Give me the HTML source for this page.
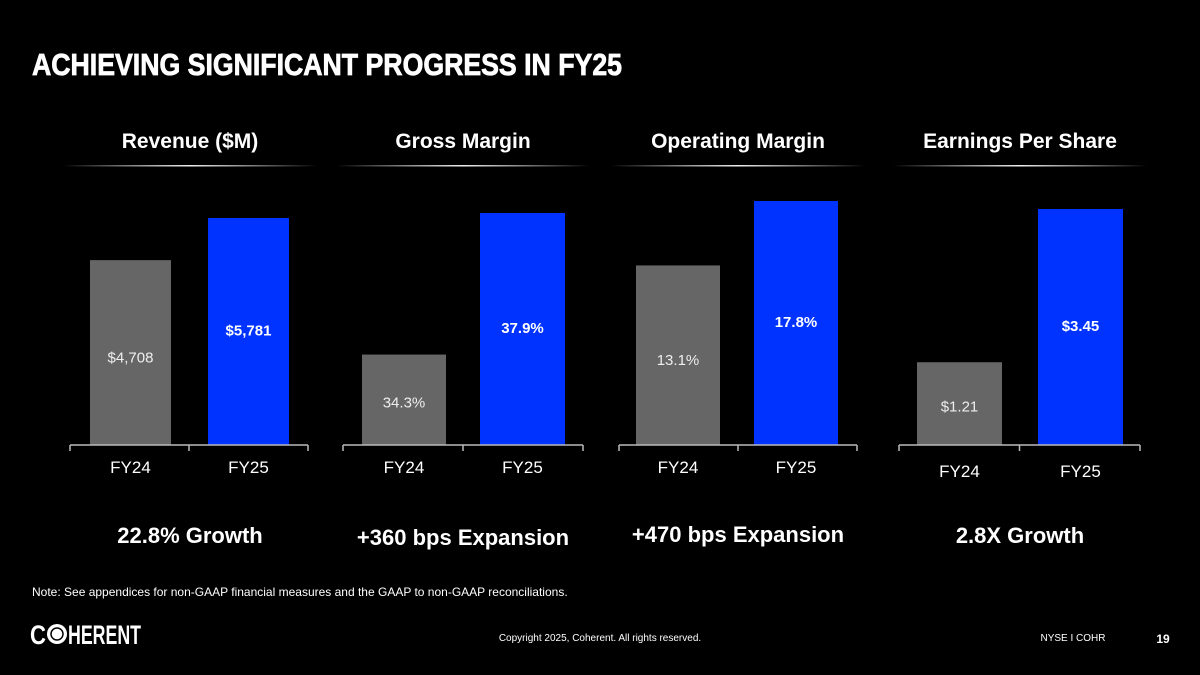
<!DOCTYPE html>
<html><head><meta charset="utf-8"><style>
body{margin:0;background:#000;width:1200px;height:675px;overflow:hidden;font-family:"Liberation Sans",Arial,sans-serif}
svg{display:block}
</style></head><body>
<svg id="s" width="1200" height="675" viewBox="0 0 1200 675">
<defs>
<linearGradient id="g" x1="0" x2="1"><stop offset="0" stop-color="#fff" stop-opacity="0"/><stop offset="0.5" stop-color="#eee"/><stop offset="1" stop-color="#fff" stop-opacity="0"/></linearGradient>
</defs>
<text x="32" y="75" font-size="31" font-weight="bold" fill="#fff" stroke="#fff" stroke-width="0.8" textLength="590" lengthAdjust="spacingAndGlyphs">ACHIEVING SIGNIFICANT PROGRESS IN FY25</text>
<g id="charts"></g>
<text x="32" y="596" font-size="12" fill="#fff">Note: See appendices for non-GAAP financial measures and the GAAP to non-GAAP reconciliations.</text>
<g>
<text x="30" y="644" font-size="27" font-weight="bold" fill="#fff" textLength="16" lengthAdjust="spacingAndGlyphs">C</text>
<circle cx="57" cy="634" r="10" fill="#fff"/><circle cx="57" cy="634" r="6" fill="none" stroke="#000" stroke-width="1.5"/>
<text x="68" y="644" font-size="27" font-weight="bold" fill="#fff" textLength="73" lengthAdjust="spacingAndGlyphs">HERENT</text>
</g>
<text x="600" y="641" font-size="10" fill="#fff" text-anchor="middle">Copyright 2025, Coherent. All rights reserved.</text>
<text x="1073" y="641" font-size="10" fill="#fff" text-anchor="middle">NYSE I COHR</text>
<text x="1163" y="643" font-size="12" font-weight="bold" fill="#fff" text-anchor="middle">19</text>
</svg>
<script>
const titles=["Revenue ($M)","Gross Margin","Operating Margin","Earnings Per Share"];
const categories=["FY24","FY25"];
const fy24Values=[4708,34.3,13.1,1.21];
const fy25Values=[5781,37.9,17.8,3.45];
const valueLabels24=["$4,708","34.3%","13.1%","$1.21"];
const valueLabels25=["$5,781","37.9%","17.8%","$3.45"];
const footers=["22.8% Growth","+360 bps Expansion","+470 bps Expansion","2.8X Growth"];
const domainMin=[0,32,0,0];
const layout=[
 {axis:[70,308],b:[[90,171],[208,289]],scale:227/5781,center:190},
 {axis:[343,583],b:[[362,446],[480,565]],scale:232/5.9,center:463},
 {axis:[619,857],b:[[636,720],[754,838]],scale:244/17.8,center:738},
 {axis:[899,1140],b:[[917,1002],[1038,1123]],scale:236/3.45,center:1020}];
const NS="http://www.w3.org/2000/svg";
const G=document.getElementById('charts');
const base=445;
function mk(t,a,p){const e=document.createElementNS(NS,t);for(const k in a)e.setAttribute(k,a[k]);(p||G).appendChild(e);return e;}
for(let i=0;i<4;i++){
 const L=layout[i];
 const g=mk('g',{});
 
 
 const yS=v=>base-(v-domainMin[i])*L.scale;
 let t=mk('text',{x:L.center,y:148,'font-size':21,'font-weight':'bold',fill:'#fff','text-anchor':'middle'},g);t.textContent=titles[i];
 
 let ln=mk('rect',{x:L.center-127,y:165,width:254,height:1.5,fill:'url(#g)'},g);
 
 const vals=[fy24Values[i],fy25Values[i]],labs=[valueLabels24[i],valueLabels25[i]];
 for(let j=0;j<2;j++){
  const y=yS(vals[j]),x0=L.b[j][0],w=L.b[j][1]-x0;
  const r=mk('rect',{x:x0,y:y,width:w,height:base-y,fill:j?'#0033ff':'#666666'},g);
  
  const lt=mk('text',{x:x0+w/2,y:y+(base-y)*(j?0.5:0.52)-(j?2:0)+6,'font-size':15,'font-weight':j?'bold':'normal',fill:j?'#fff':'#eee','text-anchor':'middle'},g);
  lt.textContent=labs[j];
  const ct=mk('text',{x:x0+w/2,y:i==3?477:473,'font-size':17,fill:'#fff','text-anchor':'middle'},g);
  ct.textContent=categories[j];
 }
 const ax=mk('path',{d:`M${L.axis[0]} ${base}H${L.axis[1]}M${L.axis[0]} ${base}v6M${L.axis[1]} ${base}v6M${(L.axis[0]+L.axis[1])/2} ${base}v6`,stroke:'#bbb','stroke-width':1.5,fill:'none'},g);
 
 const f=mk('text',{x:L.center,y:[543,545,542,543][i],'font-size':22,'font-weight':'bold',fill:'#fff','text-anchor':'middle'},g);
 f.textContent=footers[i];
}
</script>
</body></html>
